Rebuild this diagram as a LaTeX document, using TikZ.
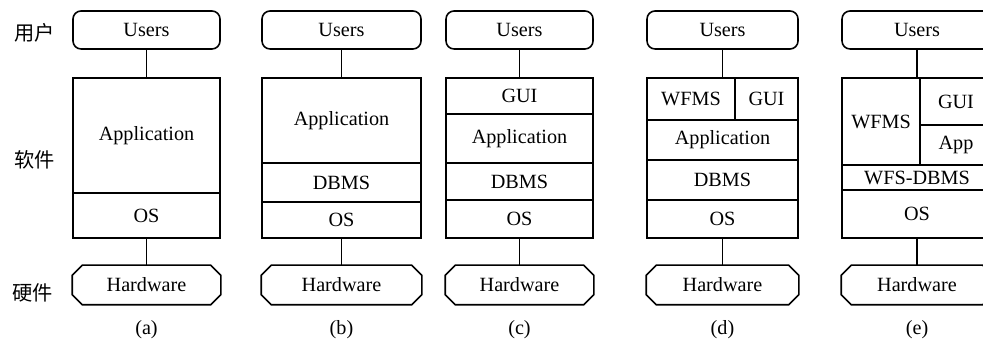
\documentclass[tikz,border=0pt]{standalone}
\usepackage{fontspec}
\setmainfont{Liberation Serif}
\newfontfamily\cjk{Noto Sans CJK SC}
\usetikzlibrary{fit}

\begin{document}
\begin{tikzpicture}[x=0.2mm, y=-0.2mm, line width=0.9pt,
    every node/.style={font=\fontsize{11.5}{13}\selectfont},
    userbox/.style={draw, rounded corners=1.6mm, inner sep=0pt},
    layer/.style={draw, inner sep=0pt},
    hwbox/.style={inner sep=0pt},
    side/.style={font=\cjk\fontsize{11.5}{13}\selectfont}]
    \useasboundingbox (0,0) rectangle (983,343);
    \clip (0,0) rectangle (983,343);

    % row labels
    \node[side] (lbl-user) at (35,33) {用户};
    \node[side] (lbl-soft) at (35,160) {软件};
    \node[side] (lbl-hard) at (33,293) {硬件};

    % users, stack frame, hardware, caption
    \foreach \n/\xl/\xr in {a/73/220, b/262/421, c/446/593, d/647/798, e/842/992} {
      \node[userbox, fit={(\xl,11) (\xr,49)}, label=center:Users] (users-\n) {};
      \node[layer, fit={(\xl,78) (\xr,238)}] (stack-\n) {};
      \node[hwbox, fit={(\xl,266) (\xr,304)}, label=center:Hardware] (hw-\n) {};
      \draw ([xshift=2mm]hw-\n.north west) -- ([xshift=-2mm]hw-\n.north east)
        -- ([yshift=-2mm]hw-\n.north east) -- ([yshift=2mm]hw-\n.south east)
        -- ([xshift=-2mm]hw-\n.south east) -- ([xshift=2mm]hw-\n.south west)
        -- ([yshift=2mm]hw-\n.south west) -- ([yshift=-2mm]hw-\n.north west) -- cycle;
      \node (cap-\n) at ({(\xl+\xr)/2},330) {(\n)};
      \draw (users-\n.south) -- (users-\n.south |- stack-\n.north);
      \draw (stack-\n.south) -- (stack-\n.south |- hw-\n.north);
    }

    % (a)
    \node[layer, fit={(73,78) (220,193)}, label=center:Application] (app-a) {};
    \node[layer, fit={(73,193) (220,238)}, label=center:OS] (os-a) {};
    % (b)
    \node[layer, fit={(262,78) (421,163)}, label=center:Application] (app-b) {};
    \node[layer, fit={(262,163) (421,202)}, label=center:DBMS] (db-b) {};
    \node[layer, fit={(262,202) (421,238)}, label=center:OS] (os-b) {};
    % (c)
    \node[layer, fit={(446,78) (593,114)}, label=center:GUI] (gui-c) {};
    \node[layer, fit={(446,114) (593,163)}, label=center:Application] (app-c) {};
    \node[layer, fit={(446,163) (593,200)}, label=center:DBMS] (db-c) {};
    \node[layer, fit={(446,200) (593,238)}, label=center:OS] (os-c) {};
    % (d)
    \node[layer, fit={(647,78) (735,120)}, label=center:WFMS] (wf-d) {};
    \node[layer, fit={(735,78) (798,120)}, label=center:GUI] (gui-d) {};
    \node[layer, fit={(647,120) (798,160)}, label=center:Application] (app-d) {};
    \node[layer, fit={(647,160) (798,200)}, label=center:DBMS] (db-d) {};
    \node[layer, fit={(647,200) (798,238)}, label=center:OS] (os-d) {};
    % (e)
    \node[layer, fit={(842,78) (920,165)}, label=center:WFMS] (wf-e) {};
    \node[layer, fit={(920,78) (992,125)}, label=center:GUI] (gui-e) {};
    \node[layer, fit={(920,125) (992,165)}, label=center:App] (app-e) {};
    \node[layer, fit={(842,165) (992,190)}, label=center:WFS-DBMS] (db-e) {};
    \node[layer, fit={(842,190) (992,238)}, label=center:OS] (os-e) {};
\end{tikzpicture}
\end{document}
